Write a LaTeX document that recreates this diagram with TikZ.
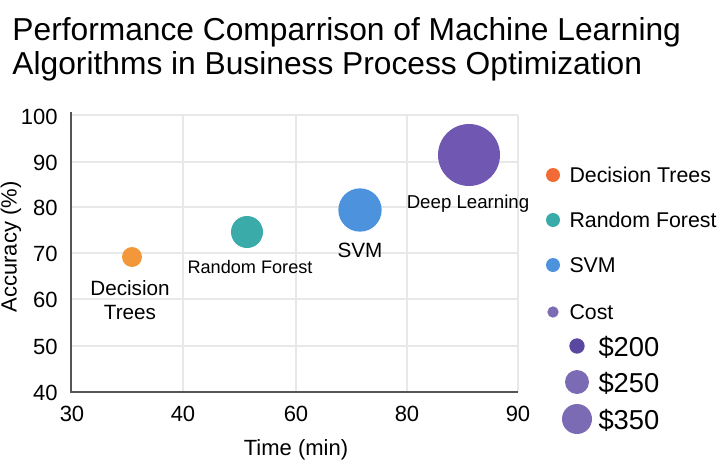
\documentclass[tikz,border=0pt]{standalone}
\usepackage{fontspec}
\setmainfont{Liberation Sans}

\definecolor{gridgrey}{RGB}{232,232,232}
\definecolor{axisgrey}{RGB}{85,85,85}
\definecolor{dtorange}{RGB}{243,152,58}
\definecolor{dtlegend}{RGB}{242,106,53}
\definecolor{rfteal}{RGB}{58,171,168}
\definecolor{svmblue}{RGB}{76,146,220}
\definecolor{dlpurple}{RGB}{112,88,178}
\definecolor{costpurple}{RGB}{123,107,181}
\definecolor{costdark}{RGB}{90,72,160}

\tikzset{every picture/.style={line width=0.75pt}}

\begin{document}
\begin{tikzpicture}[x=0.75pt,y=0.75pt,yscale=-1,xscale=1,
    bubble/.style={circle,inner sep=0pt,draw=none},
    gridline/.style={draw=gridgrey,line width=0.9pt},
    axisline/.style={draw=axisgrey,line width=1.4pt},
    ticklabel/.style={inner sep=0.75pt,font=\fontsize{16.5}{18}\selectfont},
    bubblelabel/.style={inner sep=0.75pt,align=center},
    legendtext/.style={anchor=west,inner sep=0.75pt,font=\fontsize{16}{18}\selectfont}]
    \useasboundingbox (0,0) rectangle (719,461);
    
    % Title
    \node [anchor=base west,inner sep=0pt,align=left,font=\fontsize{23.8}{25.5}\selectfont] (title) at (12,74) {Performance Comparrison of Machine Learning\\Algorithms in Business Process Optimization};
    
    % Horizontal gridlines
    \draw [gridline] (71,115) -- (518,115) ;
    \draw [gridline] (71,162) -- (518,162) ;
    \draw [gridline] (71,207) -- (518,207) ;
    \draw [gridline] (71,253) -- (518,253) ;
    \draw [gridline] (71,299) -- (518,299) ;
    \draw [gridline] (71,346) -- (518,346) ;
    % Vertical gridlines
    \draw [gridline] (183,115) -- (183,392) ;
    \draw [gridline] (296,115) -- (296,392) ;
    \draw [gridline] (407,115) -- (407,392) ;
    \draw [gridline] (518,115) -- (518,392) ;
    
    % Axes
    \coordinate (origin) at (71,392);
    \coordinate (ytop) at (71,112);
    \coordinate (xend) at (518,392);
    \draw [axisline] (ytop) -- (origin) -- (xend) ;
    
    % Y tick labels
    \node [ticklabel,anchor=east] (y100) at (59,117) {100};
    \node [ticklabel,anchor=east] (y90) at (59,163) {90};
    \node [ticklabel,anchor=east] (y80) at (59,208) {80};
    \node [ticklabel,anchor=east] (y70) at (59,254) {70};
    \node [ticklabel,anchor=east] (y60) at (59,300) {60};
    \node [ticklabel,anchor=east] (y50) at (59,347) {50};
    \node [ticklabel,anchor=east] (y40) at (59,393) {40};
    % X tick labels
    \node [ticklabel] (x30) at (72,414) {30};
    \node [ticklabel] (x40) at (183,414) {40};
    \node [ticklabel] (x60) at (296,414) {60};
    \node [ticklabel] (x80) at (407,414) {80};
    \node [ticklabel] (x90) at (518,414) {90};
    
    % Axis titles
    \node [ticklabel] (xtitle) at (296,450) {Time (min)};
    \node [ticklabel,rotate=90] (ytitle) at (11,247) {Accuracy (\%)};
    
    % Bubbles
    \node [bubble,fill=dtorange,minimum size=15pt] (dt) at (132,257) {};
    \node [bubble,fill=rfteal,minimum size=24pt] (rf) at (247,232) {};
    \node [bubble,fill=svmblue,minimum size=32.5pt] (svm) at (360,210) {};
    \node [bubble,fill=dlpurple,minimum size=46.5pt] (dl) at (469,155) {};
    
    % Bubble labels
    \node [bubblelabel,font=\fontsize{15.5}{17.5}\selectfont] (dtlabel) at (130,300) {Decision\\Trees};
    \node [bubblelabel,font=\fontsize{13.6}{15}\selectfont] (rflabel) at (250,267) {Random Forest};
    \node [bubblelabel,font=\fontsize{15.5}{17.5}\selectfont] (svmlabel) at (360,250) {SVM};
    \node [bubblelabel,font=\fontsize{14}{16}\selectfont] (dllabel) at (468,204) {Deep Learning};
    
    % Legend
    \node [bubble,fill=dtlegend,minimum size=10.5pt] (legdt) at (553,175) {};
    \node [legendtext] (legdttext) at (568,175) {Decision Trees};
    \node [bubble,fill=rfteal,minimum size=10.5pt] (legrf) at (553,220) {};
    \node [legendtext] (legrftext) at (568,220) {Random Forest};
    \node [bubble,fill=svmblue,minimum size=10.5pt] (legsvm) at (553,265) {};
    \node [legendtext] (legsvmtext) at (568,265) {SVM};
    \node [bubble,fill=costpurple,minimum size=8.5pt] (legcost) at (553,312) {};
    \node [legendtext] (legcosttext) at (568,312) {Cost};
    \node [bubble,fill=costdark,minimum size=11.5pt] (leg200) at (577,346) {};
    \node [legendtext,font=\fontsize{20.5}{23}\selectfont] (leg200text) at (597,347) {\$200};
    \node [bubble,fill=costpurple,minimum size=18pt] (leg250) at (577,382) {};
    \node [legendtext,font=\fontsize{20.5}{23}\selectfont] (leg250text) at (597,383) {\$250};
    \node [bubble,fill=costpurple,minimum size=22.5pt] (leg350) at (577,419) {};
    \node [legendtext,font=\fontsize{20.5}{23}\selectfont] (leg350text) at (597,420) {\$350};
    
\end{tikzpicture}
\end{document}
